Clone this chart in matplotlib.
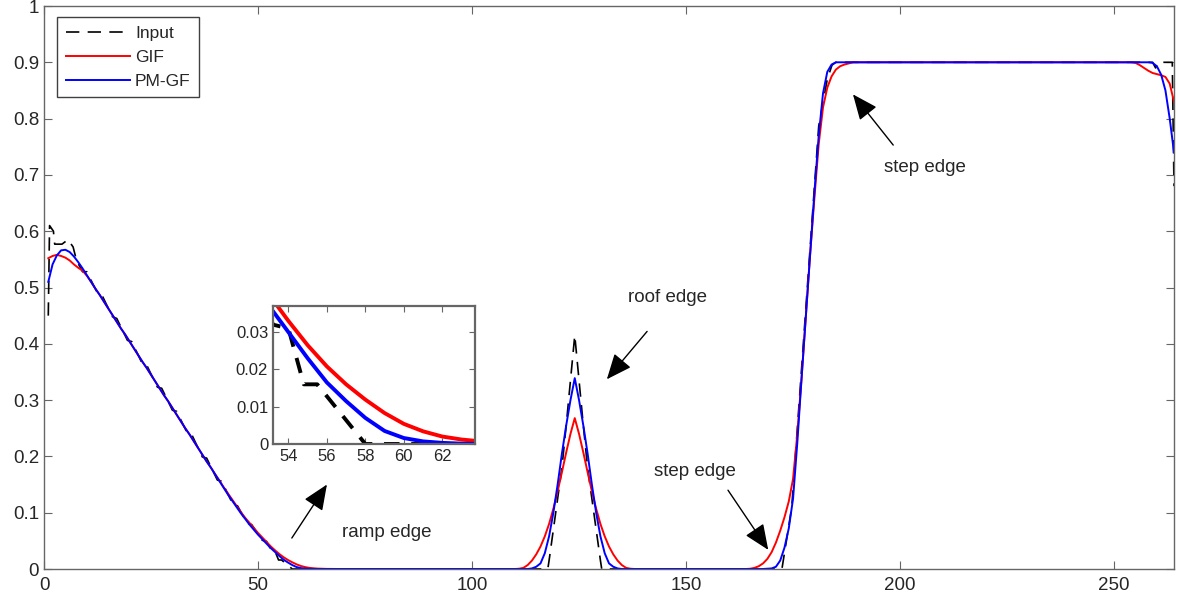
import numpy as np
import matplotlib
matplotlib.use("Agg")
import matplotlib.pyplot as plt

plt.rcParams["font.family"] = ["Liberation Sans", "DejaVu Sans"]

# ---------------- data ----------------
N = 264
PLATEAU = 0.9

# PM-GF (blue) pieces, sample index starts given by *_start
pmgf_ramp_start = 1
pmgf_ramp = [0.510, 0.541, 0.557, 0.566, 0.567, 0.563, 0.555, 0.545, 0.534, 0.522,
             0.510, 0.498, 0.487, 0.475, 0.463, 0.451, 0.439, 0.427, 0.416, 0.404,
             0.392, 0.380, 0.368, 0.357, 0.345, 0.333, 0.321, 0.309, 0.298, 0.286,
             0.274, 0.262, 0.250, 0.239, 0.227, 0.215, 0.203, 0.191, 0.180, 0.168,
             0.156, 0.144, 0.132, 0.121, 0.110, 0.099, 0.089, 0.079, 0.070, 0.061,
             0.053, 0.045, 0.037, 0.030, 0.023, 0.0165, 0.0115, 0.007, 0.0035, 0.0016,
             0.0007, 0.0003, 0.0001, 0.0]
pmgf_roof_start = 114
pmgf_roof = [0.001, 0.004, 0.010, 0.028, 0.058, 0.100, 0.150, 0.205, 0.255, 0.300,
             0.339,
             0.300, 0.255, 0.205, 0.150, 0.100, 0.058, 0.028, 0.010, 0.004, 0.001]
pmgf_step_start = 169
pmgf_step = [0.0005, 0.001, 0.004, 0.015, 0.038, 0.072, 0.125, 0.225, 0.340, 0.450,
             0.560, 0.670, 0.770, 0.845, 0.883, 0.896, 0.9]
pmgf_end_start = 259
pmgf_end = [0.899, 0.893, 0.878, 0.850, 0.800, 0.740]

# GIF (red) pieces
gif_ramp_start = 1
gif_ramp = [0.552, 0.556, 0.558, 0.556, 0.553, 0.548, 0.541, 0.535, 0.530, 0.521,
            0.510, 0.498, 0.487, 0.475, 0.463, 0.451, 0.439, 0.427, 0.416, 0.404,
            0.392, 0.380, 0.368, 0.357, 0.345, 0.333, 0.321, 0.309, 0.298, 0.286,
            0.274, 0.262, 0.250, 0.239, 0.227, 0.215, 0.203, 0.191, 0.180, 0.168,
            0.157, 0.145, 0.134, 0.123, 0.112, 0.101, 0.091, 0.082, 0.073, 0.064,
            0.056, 0.048, 0.040, 0.0330, 0.0265, 0.0208, 0.016, 0.0119, 0.0083, 0.0054,
            0.0034, 0.0020, 0.0012, 0.0007, 0.0004, 0.0002, 0.0001, 0.0]
gif_roof_start = 111
gif_roof = [0.0005, 0.002, 0.007, 0.015, 0.026, 0.040, 0.058, 0.080, 0.107, 0.138,
            0.172, 0.207, 0.240, 0.268, 0.240, 0.207, 0.172, 0.138, 0.107, 0.080,
            0.058, 0.040, 0.026, 0.015, 0.007, 0.002, 0.0005]
gif_step_start = 165
gif_step = [0.0005, 0.002, 0.005, 0.010, 0.018, 0.030, 0.047, 0.068, 0.092, 0.120,
            0.160, 0.240, 0.340, 0.450, 0.560, 0.660, 0.755, 0.820, 0.855, 0.875,
            0.887, 0.893, 0.896, 0.898, 0.9]
gif_end_start = 255
gif_end = [0.899, 0.895, 0.890, 0.885, 0.881, 0.879, 0.877, 0.874, 0.862, 0.830]

# Input (dashed) as knots
input_x = [1.0, 1.3, 2.2, 2.5, 4.2, 5.6, 6.8, 7.6, 9.0, 10.0,
           12.5, 13.5, 16.0, 17.0, 19.5, 20.5, 23.0, 24.0, 26.5, 27.5,
           30.0, 31.0, 33.5, 34.5, 37.0, 38.0, 40.5, 41.5, 44.0, 45.0,
           47.5, 48.5, 51.0, 52.0, 53.2, 54.0, 54.8, 55.5, 58.0,
           117.7, 118.0, 119.0, 120.0, 121.0, 122.0, 123.0, 124.0,
           125.0, 126.0, 127.0, 128.0, 129.0, 130.0, 130.3,
           172.4, 174.7, 181.0, 183.0, 184.1, 185.0,
           259.0, 259.7, 260.4, 263.6, 264.0]
input_y = [0.450, 0.610, 0.600, 0.577, 0.577, 0.585, 0.572, 0.548, 0.528, 0.528,
           0.490, 0.487, 0.448, 0.445, 0.406, 0.404, 0.364, 0.362, 0.323, 0.321,
           0.282, 0.280, 0.241, 0.239, 0.199, 0.197, 0.158, 0.156, 0.117, 0.115,
           0.081, 0.079, 0.051, 0.049, 0.032, 0.031, 0.016, 0.016, 0.0,
           0.0, 0.015, 0.070, 0.125, 0.180, 0.255, 0.335, 0.415,
           0.335, 0.255, 0.180, 0.125, 0.070, 0.015, 0.0,
           0.0, 0.110, 0.787, 0.870, 0.895, 0.9,
           0.9, 0.890, 0.9, 0.9, 0.68]

annotations = [
    ("ramp edge", (80.0, 0.064), (66.1, 0.150), (57.9, 0.055)),
    ("roof edge", (145.6, 0.482), (131.5, 0.337), (140.9, 0.422)),
    ("step edge", (152.1, 0.173), (169.2, 0.034), (159.8, 0.140)),
    ("step edge", (205.8, 0.714), (189.0, 0.843), (198.4, 0.753)),
]


def assemble(pieces, plateau_range):
    arr = np.zeros(N)
    lo, hi = plateau_range
    arr[lo - 1:hi] = PLATEAU
    for start, seg in pieces:
        arr[start - 1:start - 1 + len(seg)] = seg
    return arr


x = np.arange(1, N + 1)
pmgf = assemble([(pmgf_ramp_start, pmgf_ramp), (pmgf_roof_start, pmgf_roof),
                 (pmgf_step_start, pmgf_step), (pmgf_end_start, pmgf_end)],
                (pmgf_step_start + len(pmgf_step), pmgf_end_start - 1))
gif = assemble([(gif_ramp_start, gif_ramp), (gif_roof_start, gif_roof),
                (gif_step_start, gif_step), (gif_end_start, gif_end)],
               (gif_step_start + len(gif_step), gif_end_start - 1))
inp_x = np.array(input_x)
inp_y = np.array(input_y)

# ---------------- figure ----------------
AX_COL = "#666666"
TXT_COL = "#262626"

fig = plt.figure(figsize=(11.78, 6.10), dpi=100)
ax = fig.add_axes([44 / 1178, 41 / 610, 1130 / 1178, 563 / 610])

ax.plot(inp_x, inp_y, color="black", lw=1.2, dashes=[8, 5], label="Input")
ax.plot(x, gif, color="#ff0000", lw=1.4, label="GIF")
ax.plot(x, pmgf, color="#0000ff", lw=1.4, label="PM-GF")

ax.set_xlim(0, N)
ax.set_ylim(0, 1)
ax.set_xticks([0, 50, 100, 150, 200, 250])
yt = np.round(np.arange(0, 1.01, 0.1), 1)
ax.set_yticks(yt)
ax.set_yticklabels(["0" if v == 0 else ("1" if v == 1 else f"{v:g}") for v in yt])


def style_axes(a, size):
    a.tick_params(direction="in", length=6, width=0.8, colors=AX_COL,
                  labelcolor=TXT_COL, labelsize=size, top=True, right=True)
    for s in a.spines.values():
        s.set_color(AX_COL)
        s.set_linewidth(1.0)


style_axes(ax, 13.5)
ax.tick_params(axis="x", pad=6)

leg = ax.legend(loc="upper left", bbox_to_anchor=(0.0115, 0.98), borderaxespad=0,
                fontsize=12.5, handlelength=3.7, handletextpad=0.3,
                labelspacing=0.5, borderpad=0.5, fancybox=False,
                framealpha=1, edgecolor="#404040")
leg.get_frame().set_linewidth(1.0)
for t in leg.get_texts():
    t.set_color(TXT_COL)

for text, txy, head, tail in annotations:
    ax.text(txy[0], txy[1], text, ha="center", va="center",
            fontsize=13.5, color=TXT_COL)
    ax.annotate("", xy=head, xytext=tail,
                arrowprops=dict(arrowstyle="-|>,head_length=0.75,head_width=0.32",
                                mutation_scale=21, lw=1.0, color="black",
                                shrinkA=0, shrinkB=0))

# inset
ins = fig.add_axes([273 / 1178, (610 - 444) / 610, 202 / 1178, 138 / 610])
ins.plot(inp_x, inp_y, color="black", lw=2.8, dashes=[4, 3])
ins.plot(x, gif, color="#ff0000", lw=2.8)
ins.plot(x, pmgf, color="#0000ff", lw=2.8)
ins.set_xlim(53.2, 63.7)
ins.set_ylim(0, 0.037)
ins.set_xticks([54, 56, 58, 60, 62])
ins.set_yticks([0, 0.01, 0.02, 0.03])
ins.set_yticklabels(["0", "0.01", "0.02", "0.03"])
style_axes(ins, 12)
for s in ins.spines.values():
    s.set_linewidth(1.6)
ins.tick_params(length=4)

fig.savefig("out.png", dpi=100)
